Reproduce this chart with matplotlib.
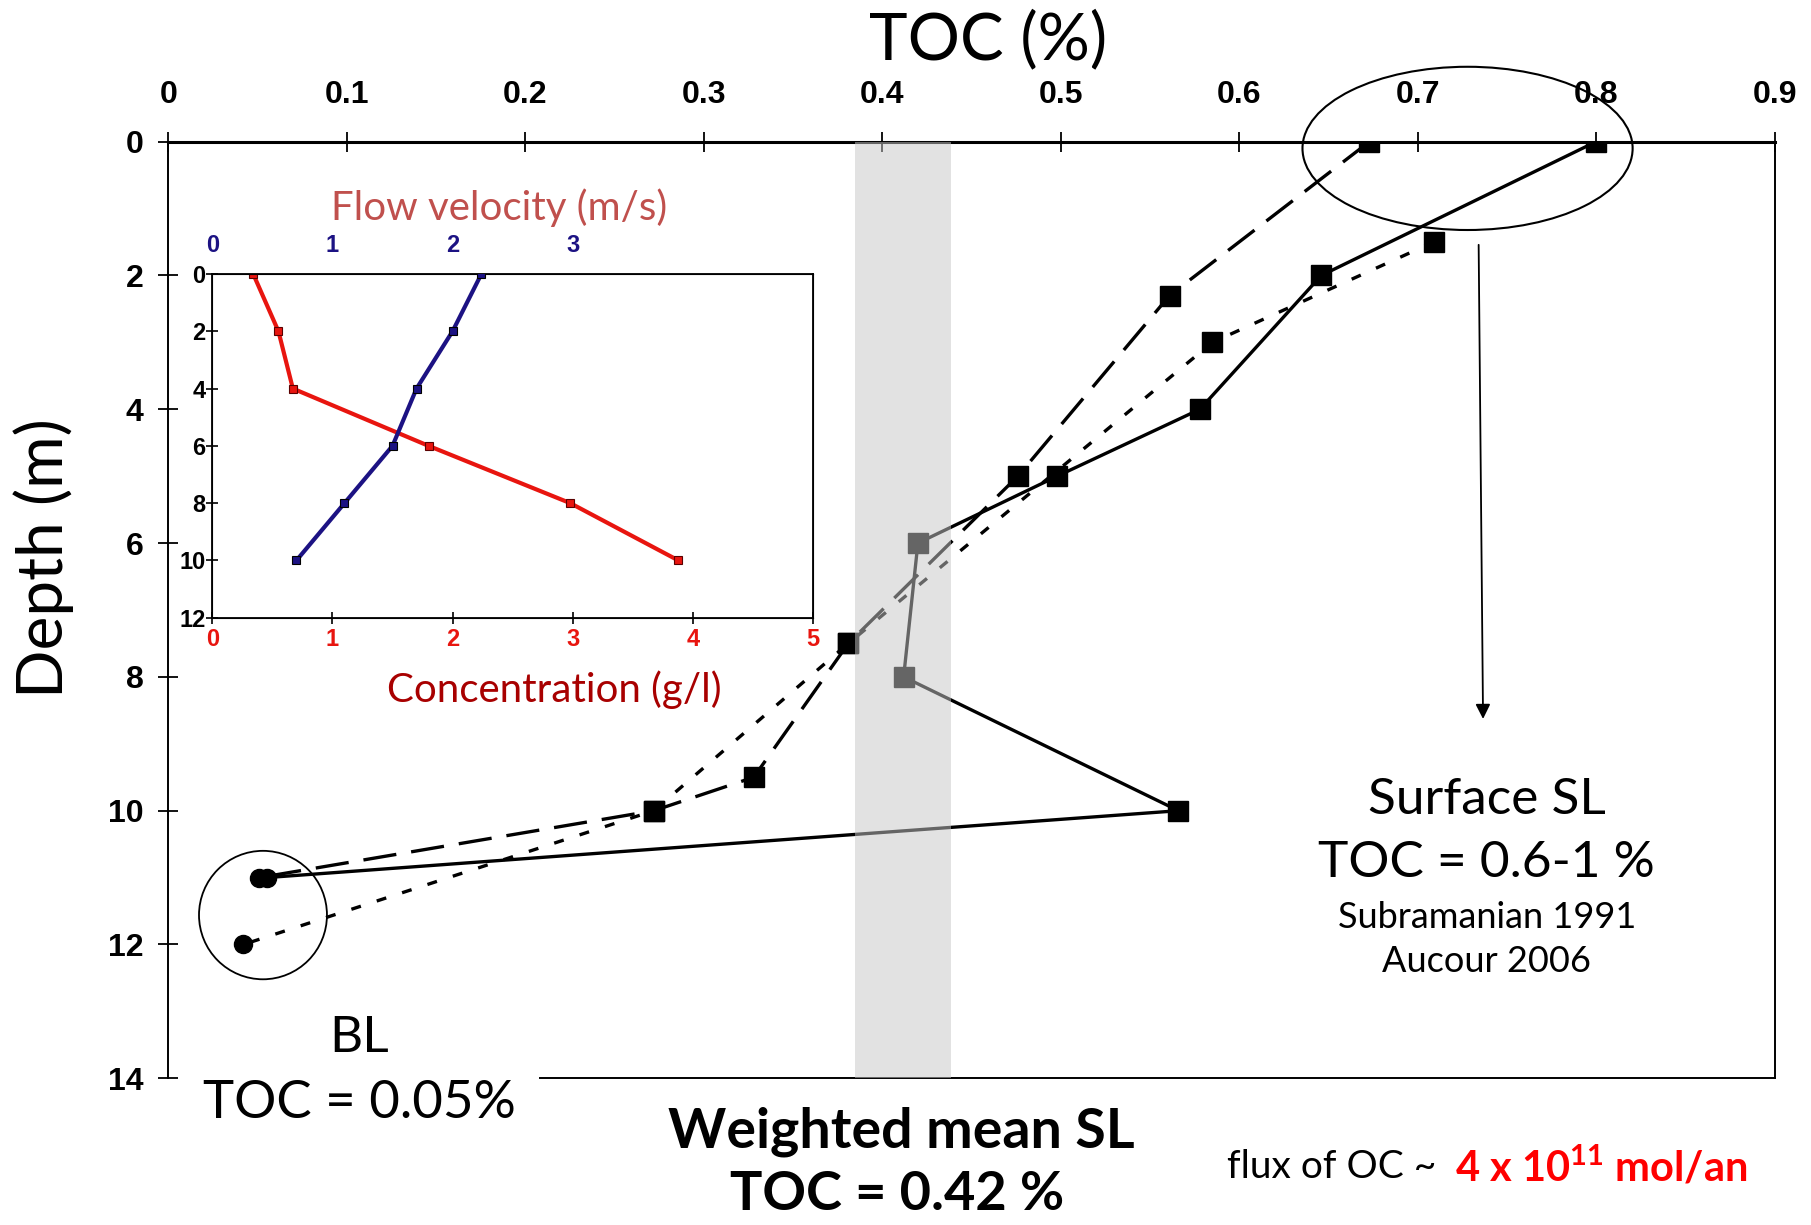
import matplotlib
matplotlib.use("Agg")
import matplotlib.pyplot as plt
from matplotlib.patches import Ellipse

# --- main TOC profiles (TOC %, depth m); last point of each is the bottom layer
toc_solid = [0.800, 0.646, 0.578, 0.498, 0.420, 0.412, 0.566, 0.055]
depth_solid = [0, 2, 4, 5, 6, 8, 10, 11]
toc_dashed = [0.673, 0.561, 0.476, 0.381, 0.328, 0.272, 0.051]
depth_dashed = [0, 2.3, 5, 7.5, 9.5, 10, 11]
toc_dotted = [0.709, 0.585, 0.381, 0.272, 0.042]
depth_dotted = [1.5, 3, 7.5, 10, 12]

toc_ticks = [0, 0.1, 0.2, 0.3, 0.4, 0.5, 0.6, 0.7, 0.8, 0.9]
depth_ticks = [0, 2, 4, 6, 8, 10, 12, 14]
mean_band = (0.385, 0.4385)

# --- inset: concentration (g/l) and flow velocity (m/s) vs depth
inset_depth = [0, 2, 4, 6, 8, 10]
concentration = [0.34, 0.55, 0.67, 1.80, 2.98, 3.88]
velocity = [2.24, 2.00, 1.70, 1.50, 1.10, 0.70]
conc_ticks = [0, 1, 2, 3, 4, 5]
vel_ticks = [0, 1, 2, 3]
inset_depth_ticks = [0, 2, 4, 6, 8, 10, 12]

W, H = 1811, 1225


def px(x, y):
    return x / W, 1 - y / H


tick_font = ['Liberation Sans', 'DejaVu Sans']
thin_font = ['Lato', 'DejaVu Sans']

fig = plt.figure(figsize=(W / 100, H / 100), dpi=100)
ax = fig.add_axes([168.4 / W, 1 - 1078.3 / H, 1606.1 / W, 936.6 / H])
ax.set_xlim(0, 0.9)
ax.set_ylim(14, 0)

ls_kw = dict(color='black', lw=2.4, zorder=3)
ax.plot(toc_solid, depth_solid, ls='-', **ls_kw)
ax.plot(toc_dashed, depth_dashed, ls=(0, (10, 4.5)), **ls_kw)
ax.plot(toc_dotted, depth_dotted, ls=(0, (3, 5)), **ls_kw)
for xs, ys in [(toc_solid, depth_solid), (toc_dashed, depth_dashed), (toc_dotted, depth_dotted)]:
    ax.plot(xs[:-1], ys[:-1], ls='none', marker='s', ms=14, color='black', zorder=3)
    ax.plot(xs[-1:], ys[-1:], ls='none', marker='o', ms=13, color='black', zorder=3)

# translucent weighted-mean band on top of the lines
ax.axvspan(*mean_band, color=(0.78, 0.78, 0.78), alpha=0.51, lw=0, zorder=4)

ax.xaxis.tick_top()
ax.set_xticks(toc_ticks)
ax.set_xticklabels(['0' if t == 0 else f'{t:g}' for t in toc_ticks])
ax.set_yticks(depth_ticks)
ax.tick_params(axis='x', direction='inout', length=14, width=1.3, pad=16, bottom=False)
ax.tick_params(axis='y', direction='inout', length=14, width=1.3, pad=11, right=False)
for lab in ax.get_xticklabels() + ax.get_yticklabels():
    lab.set_family(tick_font)
    lab.set_fontweight('bold')
    lab.set_fontsize(23)
ax.spines['top'].set_linewidth(2.2)
for s in ['left', 'right', 'bottom']:
    ax.spines[s].set_linewidth(1.4)
ax.spines['bottom'].set_bounds(0.208, 0.9)

# ellipses around surface and bottom-layer samples
ax.add_patch(Ellipse((0.728, 0.1), 0.185, 2.44, fill=False, lw=1.5,
                     color='black', clip_on=False, zorder=6))
ax.add_patch(Ellipse((0.053, 11.56), 0.0717, 1.92, fill=False, lw=1.3,
                     color='black', clip_on=False, zorder=6))
ax.annotate('', xy=(0.7367, 8.67), xytext=(0.7342, 1.5),
            arrowprops=dict(arrowstyle='-|>', lw=1.3, color='black', mutation_scale=22))

# titles and annotations
fig.text(*px(988, 40), 'TOC (%)', ha='center', va='center', fontsize=47,
         family=thin_font)
fig.text(*px(44, 558), 'Depth (m)', ha='center', va='center', rotation=90,
         fontsize=46, family=thin_font)
fig.text(*px(1487, 800), 'Surface SL', ha='center', va='center', fontsize=37,
         family=thin_font)
fig.text(*px(1486, 863), 'TOC = 0.6-1 %', ha='center', va='center', fontsize=37,
         family=thin_font)
fig.text(*px(1487, 918), 'Subramanian 1991', ha='center', va='center', fontsize=26,
         family=thin_font)
fig.text(*px(1487, 962), 'Aucour 2006', ha='center', va='center', fontsize=26,
         family=thin_font)
fig.text(*px(359, 1038), 'BL', ha='center', va='center', fontsize=37,
         family=thin_font)
fig.text(*px(359, 1103), 'TOC = 0.05%', ha='center', va='center', fontsize=38,
         family=thin_font)
fig.text(*px(901, 1132), 'Weighted mean SL', ha='center', va='center', fontsize=40,
         family=thin_font, fontweight='bold')
fig.text(*px(897, 1195), 'TOC = 0.42 %', ha='center', va='center', fontsize=39,
         family=thin_font, fontweight='bold')
plt.rcParams['mathtext.default'] = 'regular'
fig.text(*px(1436, 1167), 'flux of OC ~', ha='right', va='center', fontsize=28,
         family=thin_font)
fig.text(*px(1455, 1167), r'4 x 10$^{11}$ mol/an', ha='left', va='center', fontsize=30,
         family=thin_font, fontweight='bold', color='#ff0000')

# --- inset
ins = fig.add_axes([212.4 / W, 1 - 617.7 / H, 600.4 / W, 343.7 / H])
ins.set_facecolor('white')
ins.set_xlim(0, 5)
ins.set_ylim(12, 0)
ins.plot(concentration, inset_depth, color='#e8150f', lw=3, marker='s', ms=6,
         mfc='#e8150f', mec='#5a0000', mew=0.8, zorder=3)
ins.set_xticks(conc_ticks)
ins.set_yticks(inset_depth_ticks)
ins.tick_params(axis='x', direction='inout', length=8, width=1.2, pad=3.5,
                top=True, bottom=True, labelcolor='#e8150f')
ins.tick_params(axis='y', direction='inout', length=8, width=1.2, pad=1, right=False)
for lab in ins.get_xticklabels() + ins.get_yticklabels():
    lab.set_family(tick_font)
    lab.set_fontweight('bold')
    lab.set_fontsize(17)
for s in ins.spines.values():
    s.set_linewidth(1.3)

vel_ax = ins.twiny()
vel_ax.set_xlim(0, 5)
vel_ax.plot(velocity, inset_depth, color='#1c1283', lw=3, marker='s', ms=6,
            mfc='#1c1283', mec='black', mew=0.8, zorder=3)
vel_ax.set_xticks(vel_ticks)
vel_ax.tick_params(axis='x', length=0, pad=12, labelcolor='#1c1283')
for lab in vel_ax.get_xticklabels():
    lab.set_family(tick_font)
    lab.set_fontweight('bold')
    lab.set_fontsize(17)

fig.text(*px(499, 208), 'Flow velocity (m/s)', ha='center', va='center', fontsize=29,
         family=thin_font, color='#c0504d')
fig.text(*px(554, 690), 'Concentration (g/l)', ha='center', va='center', fontsize=29,
         family=thin_font, color='#a80000')

fig.savefig('out.png', dpi=100)
